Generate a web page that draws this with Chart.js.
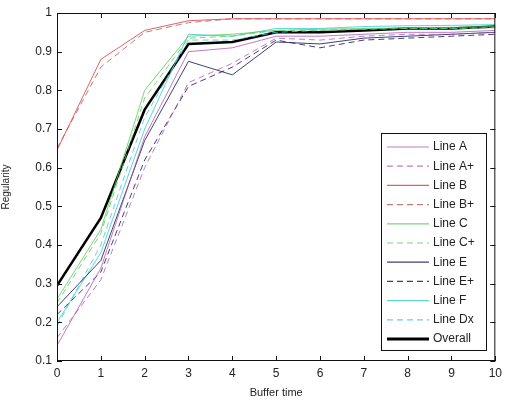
<!DOCTYPE html>
<html>
<head>
<meta charset="utf-8">
<script src="https://cdn.jsdelivr.net/npm/chart.js@4"></script>
<style>
  html, body { margin: 0; padding: 0; background: #fff; }
  #wrap { width: 507px; height: 400px; }
</style>
</head>
<body>
<div id="wrap"><canvas id="chart" width="507" height="400"></canvas></div>
<script>
const bufferTime = [0, 1, 2, 3, 4, 5, 6, 7, 8, 9, 10];
const yTicks = [0.1, 0.2, 0.3, 0.4, 0.5, 0.6, 0.7, 0.8, 0.9, 1];

const lineA   = [0.14, 0.34, 0.68, 0.90, 0.91, 0.94, 0.94, 0.945, 0.95, 0.95, 0.955];
const lineAp  = [0.16, 0.31, 0.60, 0.82, 0.87, 0.935, 0.93, 0.94, 0.945, 0.945, 0.95];
const lineB   = [0.645, 0.88, 0.955, 0.98, 0.985, 0.985, 0.985, 0.985, 0.985, 0.985, 0.985];
const lineBp  = [0.65, 0.86, 0.95, 0.975, 0.985, 0.985, 0.985, 0.985, 0.985, 0.985, 0.985];
const lineC   = [0.26, 0.44, 0.80, 0.94, 0.945, 0.955, 0.958, 0.96, 0.962, 0.963, 0.965];
const lineCp  = [0.25, 0.43, 0.78, 0.935, 0.94, 0.955, 0.955, 0.958, 0.96, 0.96, 0.962];
const lineE   = [0.24, 0.36, 0.67, 0.875, 0.84, 0.925, 0.92, 0.935, 0.94, 0.945, 0.95];
const lineEp  = [0.22, 0.33, 0.62, 0.81, 0.86, 0.93, 0.91, 0.93, 0.935, 0.94, 0.945];
const lineF   = [0.20, 0.38, 0.70, 0.945, 0.94, 0.96, 0.96, 0.965, 0.967, 0.968, 0.97];
const lineDx  = [0.19, 0.40, 0.73, 0.93, 0.93, 0.95, 0.955, 0.958, 0.96, 0.96, 0.962];
const overall = [0.295, 0.47, 0.75, 0.92, 0.925, 0.95, 0.95, 0.955, 0.96, 0.96, 0.965];

const dash = [6, 4];
const mk = (label, vals, color, dashed, width) => ({
  label: label,
  data: vals.map((v, i) => ({ x: bufferTime[i], y: v })),
  borderColor: color,
  borderWidth: width || 1,
  borderDash: dashed ? dash : [],
  pointRadius: 0,
  tension: 0,
  fill: false
});

const datasets = [
  mk('Line A', lineA, 'rgba(170,80,175,0.75)'),
  mk('Line A+', lineAp, 'rgba(170,80,175,0.75)', true),
  mk('Line B', lineB, 'rgba(220,70,80,0.85)'),
  mk('Line B+', lineBp, 'rgba(165,95,80,0.8)', true),
  mk('Line C', lineC, 'rgba(90,200,90,0.8)'),
  mk('Line C+', lineCp, 'rgba(90,200,90,0.8)', true),
  mk('Line E', lineE, 'rgba(30,30,90,0.85)'),
  mk('Line E+', lineEp, 'rgba(30,30,90,0.85)', true),
  mk('Line F', lineF, 'rgba(70,205,210,0.85)'),
  mk('Line Dx', lineDx, 'rgba(70,205,210,0.85)', true),
  mk('Overall', overall, '#000', false, 2.5)
];

const FONT = '"Liberation Sans", Arial, sans-serif';

// matlab style box with inward ticks, plus legend box inside the axes
const boxPlugin = {
  id: 'box',
  afterDatasetsDraw(chart) {
    const { ctx, chartArea: a, scales } = chart;
    ctx.save();
    ctx.strokeStyle = '#111';
    ctx.lineWidth = 1;
    ctx.strokeRect(a.left + 0.5, a.top + 0.5, a.right - a.left - 1, a.bottom - a.top - 1);
    ctx.beginPath();
    scales.x.ticks.forEach(t => {
      const px = Math.round(scales.x.getPixelForValue(t.value)) + 0.5;
      ctx.moveTo(px, a.bottom); ctx.lineTo(px, a.bottom - 5);
      ctx.moveTo(px, a.top); ctx.lineTo(px, a.top + 5);
    });
    scales.y.ticks.forEach(t => {
      const py = Math.round(scales.y.getPixelForValue(t.value)) + 0.5;
      ctx.moveTo(a.left, py); ctx.lineTo(a.left + 5, py);
      ctx.moveTo(a.right, py); ctx.lineTo(a.right - 5, py);
    });
    ctx.stroke();

    // legend
    const lx = 381, ly = 133, lw = 105, lh = 217;
    ctx.fillStyle = '#fff';
    ctx.fillRect(lx, ly, lw, lh);
    ctx.strokeStyle = '#111';
    ctx.strokeRect(lx + 0.5, ly + 0.5, lw, lh);
    ctx.font = '12px ' + FONT;
    ctx.textBaseline = 'middle';
    chart.data.datasets.forEach((ds, i) => {
      const y = ly + 14 + i * 19.2;
      ctx.beginPath();
      ctx.strokeStyle = ds.borderColor;
      ctx.lineWidth = ds.borderWidth === 1 ? 1.2 : 3;
      ctx.setLineDash(ds.borderDash);
      ctx.moveTo(lx + 6, y); ctx.lineTo(lx + 48, y);
      ctx.stroke();
      ctx.setLineDash([]);
      ctx.fillStyle = '#222';
      ctx.fillText(ds.label, lx + 52, y);
    });
    ctx.restore();
  }
};

new Chart(document.getElementById('chart'), {
  type: 'line',
  data: { datasets: datasets },
  options: {
    responsive: false,
    animation: false,
    layout: { padding: { top: 13, right: 9, left: 0, bottom: 0 } },
    plugins: { legend: { display: false }, tooltip: { enabled: false } },
    scales: {
      x: {
        type: 'linear',
        min: 0, max: 10,
        ticks: { stepSize: 1, color: '#222', font: { family: FONT, size: 12 }, padding: 5 },
        grid: { display: false, drawTicks: false },
        border: { display: false },
        title: { display: true, text: 'Buffer time', color: '#222', font: { family: FONT, size: 11 }, padding: 0 },
        afterFit(scale) { scale.height = 39; }
      },
      y: {
        min: 0.1, max: 1,
        afterBuildTicks(scale) { scale.ticks = yTicks.map(v => ({ value: v })); },
        ticks: {
          color: '#222', font: { family: FONT, size: 12 }, padding: 5,
          callback: v => (v === 1 ? '1' : v.toFixed(1))
        },
        grid: { display: false, drawTicks: false },
        border: { display: false },
        title: { display: true, text: 'Regularity', color: '#222', font: { family: FONT, size: 10 }, padding: 0 },
        afterFit(scale) { scale.width = 57; }
      }
    }
  },
  plugins: [boxPlugin]
});
</script>
</body>
</html>
